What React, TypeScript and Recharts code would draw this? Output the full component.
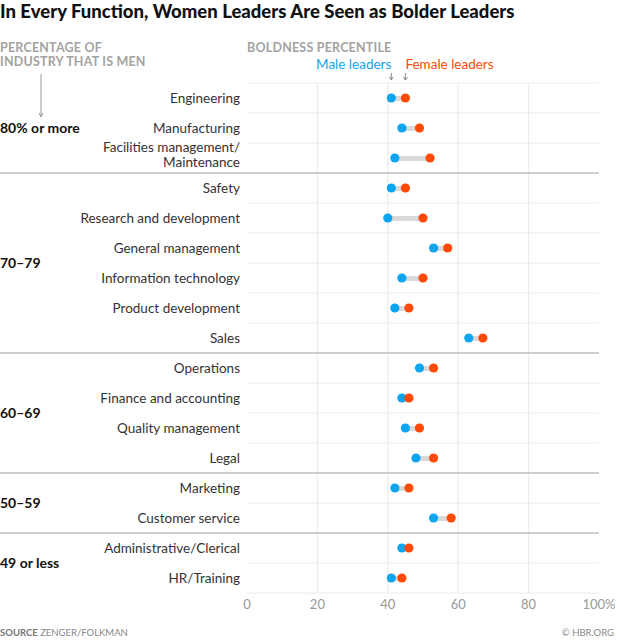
import React from 'react';
import { ComposedChart, Bar, Line, XAxis, YAxis, ReferenceLine, ReferenceArea } from 'recharts';

const FUNCTIONS = [
  'Engineering',
  'Manufacturing',
  'Facilities management/\nMaintenance',
  'Safety',
  'Research and development',
  'General management',
  'Information technology',
  'Product development',
  'Sales',
  'Operations',
  'Finance and accounting',
  'Quality management',
  'Legal',
  'Marketing',
  'Customer service',
  'Administrative/Clerical',
  'HR/Training',
];
const MALE = [41, 44, 42, 41, 40, 53, 44, 42, 63, 49, 44, 45, 48, 42, 53, 44, 41];
const FEMALE = [45, 49, 52, 45, 50, 57, 50, 46, 67, 53, 46, 49, 53, 46, 58, 46, 44];
const GROUPS = ['80% or more', '70–79', '60–69', '50–59', '49 or less'];
const GROUP_SIZES = [3, 6, 4, 2, 2];
const X_TICKS = [0, 20, 40, 60, 80, 100];
const GRID_X = [20, 40, 60, 80];

const BLUE = '#0ea5f0';
const RED = '#ff4a06';
const FONT = 'Lato, "Noto Sans", sans-serif';

const data = FUNCTIONS.map((name, i) => ({
  name,
  male: MALE[i],
  female: FEMALE[i],
  range: [MALE[i], FEMALE[i]],
}));

// first/last category of each industry group
const groups = GROUPS.map((label, g) => {
  const start = GROUP_SIZES.slice(0, g).reduce((a, b) => a + b, 0);
  return { label, first: FUNCTIONS[start], last: FUNCTIONS[start + GROUP_SIZES[g] - 1], start };
});
const groupStarts = groups.map((g) => g.start);

const CatTick = ({ x, y, payload }: any) => {
  const lines = String(payload.value).split('\n');
  const y0 = lines.length > 1 ? y - 6 : y + 4.5;
  return (
    <text x={x} y={y0} textAnchor="end" fontSize={13.5} fill="#333" fontFamily={FONT}>
      {lines.map((l, i) => (
        <tspan key={i} x={x} dy={i === 0 ? 0 : 14.5}>
          {l}
        </tspan>
      ))}
    </text>
  );
};

const makeDot = (color: string, legend: string, anchor: 'start' | 'end') => (props: any) => {
  const { cx, cy, index } = props;
  return (
    <g key={`dot-${legend}-${index}`}>
      <circle cx={cx} cy={cy} r={4.6} fill={color} />
      {index === 0 && (
        <g>
          <text x={cx} y={cy - 29} textAnchor={anchor} fontSize={13.5} fill={color} fontFamily={FONT}>
            {legend}
          </text>
          <line x1={cx} y1={cy - 25} x2={cx} y2={cy - 18} stroke="#888" strokeWidth={1} />
          <path d={`M${cx - 2},${cy - 21} L${cx},${cy - 18} L${cx + 2},${cy - 21}`} fill="none" stroke="#888" strokeWidth={1} />
        </g>
      )}
    </g>
  );
};

const GroupLabel = (text: string) => (props: any) => {
  const vb = props.viewBox || {};
  return (
    <text x={0} y={vb.y + vb.height / 2 + 5} fontSize={14} fontWeight={700} fill="#111" fontFamily={FONT}>
      {text}
    </text>
  );
};

export default function App() {
  return (
    <div style={{ position: 'relative', width: 617, height: 640, fontFamily: FONT }}>
      <style>{'body{margin:0}'}</style>
      <ComposedChart
        width={617}
        height={640}
        layout="vertical"
        data={data}
        margin={{ top: 83, right: 18, bottom: 0, left: 0 }}
        barCategoryGap={0}
      >
        <XAxis
          type="number"
          domain={[0, 100]}
          ticks={X_TICKS}
          interval={0}
          axisLine={false}
          tickLine={false}
          tickSize={5}
          height={47}
          tick={{ fontSize: 13, fill: '#999', fontFamily: FONT }}
          tickFormatter={(v) => (v === 100 ? '100%' : String(v))}
        />
        <YAxis
          type="category"
          dataKey="name"
          width={247}
          axisLine={false}
          tickLine={false}
          tickSize={0}
          tickMargin={7}
          interval={0}
          tick={<CatTick />}
        />
        {GRID_X.map((v) => (
          <ReferenceLine key={`gx-${v}`} x={v} stroke="#ececec" strokeWidth={1.2} />
        ))}
        {FUNCTIONS.map((name, i) =>
          groupStarts.includes(i) && i > 0 ? (
            <ReferenceLine
              key={`row-${i}`}
              y={name}
              position="start"
              ifOverflow="visible"
              shape={(p: any) => (
                <line x1={0} y1={p.y1} x2={p.x2} y2={p.y2} stroke="#bdbdbd" strokeWidth={1.5} />
              )}
            />
          ) : (
            <ReferenceLine key={`row-${i}`} y={name} position="start" stroke="#ececec" strokeWidth={1.2} />
          )
        )}
        <ReferenceLine y={FUNCTIONS[FUNCTIONS.length - 1]} position="end" stroke="#ececec" strokeWidth={1.2} />
        {groups.map((g) => (
          <ReferenceArea
            key={g.label}
            y1={g.first}
            y2={g.last}
            ifOverflow="visible"
            fill="none"
            fillOpacity={0}
            stroke="none"
            label={GroupLabel(g.label)}
          />
        ))}
        <Bar dataKey="range" barSize={5} fill="#d9d9d9" isAnimationActive={false} />
        <Line
          dataKey="male"
          stroke="none"
          dot={makeDot(BLUE, 'Male leaders', 'end')}
          activeDot={false}
          isAnimationActive={false}
        />
        <Line
          dataKey="female"
          stroke="none"
          dot={makeDot(RED, 'Female leaders', 'start')}
          activeDot={false}
          isAnimationActive={false}
        />
      </ComposedChart>
      <svg width={617} height={640} style={{ position: 'absolute', left: 0, top: 0, pointerEvents: 'none' }}>
        <text x={0} y={18} fontSize={18.5} fontWeight={900} fill="#111" fontFamily={FONT}>
          In Every Function, Women Leaders Are Seen as Bolder Leaders
        </text>
        <text x={0} y={52} fontSize={12.5} fontWeight={700} fill="#a3a3a3" fontFamily={FONT} letterSpacing={0.2}>
          PERCENTAGE OF
        </text>
        <text x={0} y={65.5} fontSize={12.5} fontWeight={700} fill="#a3a3a3" fontFamily={FONT} letterSpacing={0.2}>
          INDUSTRY THAT IS MEN
        </text>
        <text x={247} y={52} fontSize={12.5} fontWeight={700} fill="#a3a3a3" fontFamily={FONT} letterSpacing={0.2}>
          BOLDNESS PERCENTILE
        </text>
        <line x1={41} y1={74} x2={41} y2={117} stroke="#999" strokeWidth={1} />
        <path d="M39,113 L41,117 L43,113" fill="none" stroke="#999" strokeWidth={1} />
        <text x={0} y={636} fontSize={9.5} fill="#888" fontFamily={FONT}>
          <tspan fontWeight={700} fill="#777">SOURCE</tspan> ZENGER/FOLKMAN
        </text>
        <text x={614} y={636} textAnchor="end" fontSize={9.5} fill="#888" fontFamily={FONT}>
          © HBR.ORG
        </text>
      </svg>
    </div>
  );
}
